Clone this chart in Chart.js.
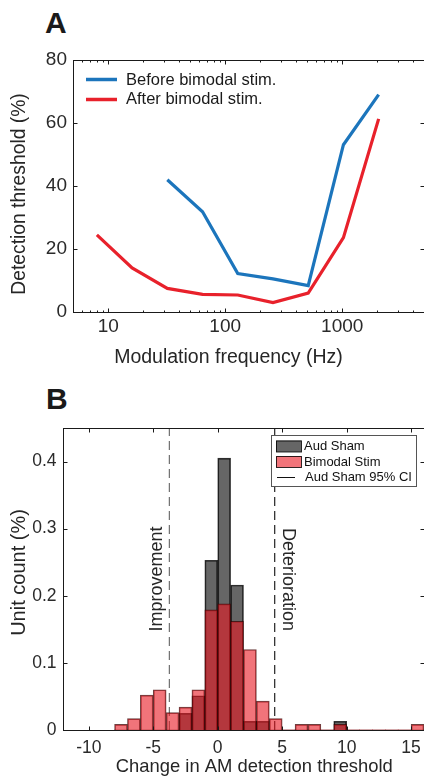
<!DOCTYPE html>
<html>
<head>
<meta charset="utf-8">
<script src="https://cdn.jsdelivr.net/npm/chart.js@4.4.0/dist/chart.umd.min.js"></script>
<style>
  body { margin: 0; background: #fff; width: 424px; height: 776px; overflow: hidden; position: relative; }
  canvas { position: absolute; left: 0; }
  #chartA { top: 0; }
  #chartB { top: 380px; }
  .panel { position: absolute; font: bold 30px/1 "Liberation Sans", Arial, sans-serif; color: #1a1a1a; }
</style>
</head>
<body>
<div class="panel" style="left:45px;top:8px">A</div>
<div class="panel" style="left:46px;top:384px">B</div>
<canvas id="chartA" width="424" height="380"></canvas>
<canvas id="chartB" width="424" height="396"></canvas>
<script>
// panel A: detection threshold vs modulation frequency
const freqBefore = [32, 64, 128, 256, 512, 1024, 2048];
const thrBefore = [42.0, 31.8, 12.2, 10.5, 8.4, 53.1, 69.0];
const freqAfter = [8, 16, 32, 64, 128, 256, 512, 1024, 2048];
const thrAfter = [24.5, 14.0, 7.5, 5.6, 5.4, 3.0, 6.0, 23.6, 61.3];
const seriesA = ['Before bimodal stim.', 'After bimodal stim.'];
const freqTicks = [10, 100, 1000];
const thrTicks = [0, 20, 40, 60, 80];

// panel B: histogram of threshold change (bins are 1 wide, value = left edge)
const binStarts = [-8, -7, -6, -5, -4, -3, -2, -1, 0, 1, 2, 3, 4, 5, 6, 7, 8, 9, 10, 11, 12, 13, 14, 15];
const shamCounts = [0, 0, 0, 0, 0, 0.025, 0.051, 0.253, 0.405, 0.216, 0.013, 0.013, 0, 0, 0, 0, 0, 0.013, 0, 0, 0, 0, 0, 0];
const bimodalCounts = [0.0085, 0.017, 0.052, 0.060, 0.026, 0.034, 0.060, 0.179, 0.188, 0.162, 0.120, 0.043, 0.017, 0, 0.0085, 0.0085, 0, 0.0085, 0, 0, 0, 0, 0, 0.0085];
const seriesB = ['Aud Sham', 'Bimodal Stim', 'Aud Sham 95% CI'];
const ciBounds = [-3.75, 4.42];
const changeTicks = [-10, -5, 0, 5, 10, 15];
const countTicks = [0, 0.1, 0.2, 0.3, 0.4];

const FONT = '"Liberation Sans", Arial, Helvetica, sans-serif';
const blue = '#1c75bc';
const red = '#e8212b';
const shamFill = 'rgba(0,0,0,0.6)';
const bimFill = 'rgba(232,23,33,0.6)';

function drawText(ctx, str, x, y, size, opt = {}) {
  ctx.save();
  ctx.translate(x, y);
  if (opt.rot) ctx.rotate(opt.rot);
  ctx.font = size + 'px ' + FONT;
  ctx.fillStyle = opt.color || '#262626';
  ctx.textAlign = opt.align || 'center';
  ctx.textBaseline = opt.base || 'middle';
  ctx.fillText(str, 0, 0);
  ctx.restore();
}

// box round the plot and ticks pointing inward on all four sides
function drawFrame(ctx, a, xMarks, yMarks) {
  ctx.save();
  ctx.strokeStyle = '#1a1a1a';
  ctx.lineWidth = 1;
  const l = Math.round(a.left) + 0.5, t = Math.round(a.top) + 0.5;
  const r = Math.round(a.right) + 0.5, b = Math.round(a.bottom) + 0.5;
  ctx.strokeRect(l, t, r - l, b - t);
  ctx.beginPath();
  xMarks.forEach(([px, len]) => {
    px = Math.round(px) + 0.5;
    ctx.moveTo(px, b); ctx.lineTo(px, b - len);
    ctx.moveTo(px, t); ctx.lineTo(px, t + len);
  });
  yMarks.forEach(([py, len]) => {
    py = Math.round(py) + 0.5;
    ctx.moveTo(l, py); ctx.lineTo(l + len, py);
    ctx.moveTo(r, py); ctx.lineTo(r - len, py);
  });
  ctx.stroke();
  ctx.restore();
}

// keep the plot box where it is, whatever the outer tick labels want
function fixBox(size) {
  return s => {
    if (s.isHorizontal()) s.height = size; else s.width = size;
    s.paddingLeft = 0; s.paddingRight = 0; s.paddingTop = 0; s.paddingBottom = 0;
  };
}

const decorA = {
  id: 'decorA',
  afterDraw(chart) {
    const {ctx, chartArea: a, scales: {x, y}} = chart;
    const xMarks = [];
    for (let n = 0; n <= 3; n++) {
      for (let k = 1; k <= 9; k++) {
        const v = k * Math.pow(10, n);
        if (v > x.min && v < x.max) xMarks.push([x.getPixelForValue(v), k === 1 ? 4 : 2]);
      }
    }
    const yMarks = thrTicks.map(v => [y.getPixelForValue(v), 4]);
    drawFrame(ctx, a, xMarks, yMarks);

    // legend
    [blue, red].forEach((c, i) => {
      const ly = 79.5 + i * 20;
      ctx.save();
      ctx.strokeStyle = c;
      ctx.lineWidth = 3.5;
      ctx.beginPath();
      ctx.moveTo(86, ly); ctx.lineTo(117, ly);
      ctx.stroke();
      ctx.restore();
      drawText(ctx, seriesA[i], 126, 84.5 + i * 19.5, 16.5, {align: 'left', base: 'alphabetic', color: '#1a1a1a'});
    });

    drawText(ctx, 'Modulation frequency (Hz)', 228.5, 362.5, 19.5, {base: 'alphabetic'});
    drawText(ctx, 'Detection threshold (%)', 19.5, 194, 19.3, {rot: -Math.PI / 2});
  }
};

const decorB = {
  id: 'decorB',
  afterDraw(chart) {
    const {ctx, chartArea: a, scales: {x, y}} = chart;
    drawFrame(ctx, a,
      changeTicks.map(v => [x.getPixelForValue(v), 4]),
      countTicks.map(v => [y.getPixelForValue(v), 4]));

    drawText(ctx, 'Improvement', 157.3, 199, 18, {rot: -Math.PI / 2});
    drawText(ctx, 'Deterioration', 288.3, 199.5, 18, {rot: Math.PI / 2});

    // legend box
    ctx.save();
    ctx.fillStyle = '#fff';
    ctx.strokeStyle = '#555';
    ctx.lineWidth = 1;
    ctx.fillRect(271.5, 55.5, 145, 51);
    ctx.strokeRect(271.5, 55.5, 145, 51);
    [shamFill, bimFill].forEach((c, i) => {
      const sy = 60.5 + i * 15.5;
      ctx.fillStyle = c;
      ctx.fillRect(276, sy, 25.5, 11.5);
      ctx.strokeStyle = 'rgba(0,0,0,0.8)';
      ctx.strokeRect(276.5, sy + 0.5, 25, 11);
    });
    ctx.strokeStyle = '#111';
    ctx.beginPath();
    ctx.moveTo(277, 97.5); ctx.lineTo(295, 97.5);
    ctx.stroke();
    ctx.restore();
    seriesB.forEach((s, i) => {
      drawText(ctx, s, i < 2 ? 304 : 305, 70 + i * 15.7, 13, {align: 'left', base: 'alphabetic', color: '#111'});
    });

    drawText(ctx, 'Change in AM detection threshold', 254.3, 391.5, 18.4, {base: 'alphabetic'});
    drawText(ctx, 'Unit count (%)', 19.5, 192.5, 20, {rot: -Math.PI / 2});
  }
};

new Chart(document.getElementById('chartA'), {
  type: 'line',
  data: {
    datasets: [
      {
        label: seriesA[0],
        data: freqBefore.map((f, i) => ({x: f, y: thrBefore[i]})),
        borderColor: blue, borderWidth: 3.2, pointRadius: 0, tension: 0
      },
      {
        label: seriesA[1],
        data: freqAfter.map((f, i) => ({x: f, y: thrAfter[i]})),
        borderColor: red, borderWidth: 3.2, pointRadius: 0, tension: 0
      }
    ]
  },
  options: {
    responsive: false,
    animation: false,
    devicePixelRatio: 1,
    layout: {padding: {top: 60, left: 0, right: 0, bottom: 0}},
    plugins: {legend: {display: false}, tooltip: {enabled: false}},
    scales: {
      x: {
        type: 'logarithmic', min: 5, max: 5000,
        grid: {display: false, drawTicks: false},
        border: {display: false},
        afterBuildTicks: s => { s.ticks = freqTicks.map(v => ({value: v})); },
        afterFit: fixBox(68),
        ticks: {font: {family: FONT, size: 19}, color: '#2a2a2a', padding: 3, autoSkip: false, maxRotation: 0,
          callback: v => String(v)}
      },
      y: {
        min: 0, max: 80,
        grid: {display: false, drawTicks: false},
        border: {display: false},
        afterBuildTicks: s => { s.ticks = thrTicks.map(v => ({value: v})); },
        afterFit: fixBox(73),
        ticks: {font: {family: FONT, size: 19}, color: '#2a2a2a', padding: 6}
      }
    }
  },
  plugins: [decorA]
});

const ciColors = ['#707070', '#222'];

new Chart(document.getElementById('chartB'), {
  type: 'bar',
  data: {
    datasets: [
      {
        label: seriesB[0],
        data: binStarts.map((b, i) => ({x: b + 0.5, y: shamCounts[i]})),
        backgroundColor: shamFill,
        borderColor: 'rgba(0,0,0,0.8)',
        borderWidth: c => (c.raw && c.raw.y > 0 ? 1 : 0),
        order: 2
      },
      {
        label: seriesB[1],
        data: binStarts.map((b, i) => ({x: b + 0.5, y: bimodalCounts[i]})),
        backgroundColor: bimFill,
        borderColor: 'rgba(60,0,0,0.75)',
        borderWidth: c => (c.raw && c.raw.y > 0 ? 1 : 0),
        order: 1
      },
      ...ciBounds.map((v, i) => ({
        type: 'line',
        label: seriesB[2],
        data: [{x: v, y: 0}, {x: v, y: 0.45}],
        borderColor: ciColors[i],
        borderWidth: 1.2,
        borderDash: [9, 5],
        pointRadius: 0,
        order: 3
      }))
    ]
  },
  options: {
    responsive: false,
    animation: false,
    devicePixelRatio: 1,
    layout: {padding: {top: 48, left: 0, right: 0, bottom: 0}},
    plugins: {legend: {display: false}, tooltip: {enabled: false}},
    datasets: {bar: {grouped: false, barPercentage: 1, categoryPercentage: 1}},
    scales: {
      x: {
        type: 'linear', min: -12, max: 16, offset: false,
        grid: {display: false, drawTicks: false, offset: false},
        border: {display: false},
        afterBuildTicks: s => { s.ticks = changeTicks.map(v => ({value: v})); },
        afterFit: fixBox(46),
        ticks: {font: {family: FONT, size: 17.5}, color: '#2a2a2a', padding: 8, autoSkip: false, maxRotation: 0,
          callback: v => String(v)}
      },
      y: {
        min: 0, max: 0.45,
        grid: {display: false, drawTicks: false},
        border: {display: false},
        afterBuildTicks: s => { s.ticks = countTicks.map(v => ({value: v})); },
        afterFit: fixBox(63),
        ticks: {font: {family: FONT, size: 17.5}, color: '#2a2a2a', padding: 6.5,
          callback: v => String(+v.toFixed(2))}
      }
    }
  },
  plugins: [decorB]
});
</script>
</body>
</html>
